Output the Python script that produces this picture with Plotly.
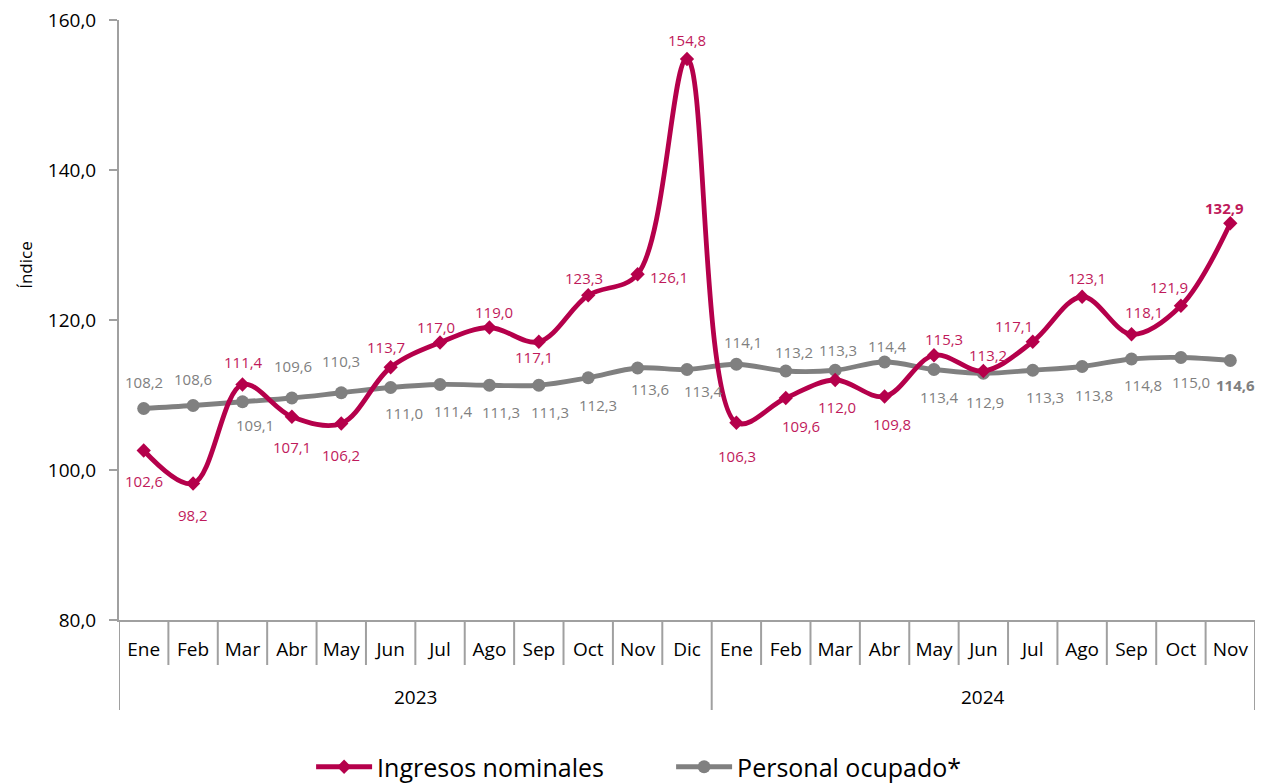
import plotly.graph_objects as go

# --- data -----------------------------------------------------------------
years = ["2023"] * 12 + ["2024"] * 11
months = ["Ene", "Feb", "Mar", "Abr", "May", "Jun", "Jul", "Ago", "Sep", "Oct", "Nov", "Dic",
          "Ene", "Feb", "Mar", "Abr", "May", "Jun", "Jul", "Ago", "Sep", "Oct", "Nov"]

ingresos = [102.6, 98.2, 111.4, 107.1, 106.2, 113.7, 117.0, 119.0, 117.1, 123.3, 126.1, 154.8,
            106.3, 109.6, 112.0, 109.8, 115.3, 113.2, 117.1, 123.1, 118.1, 121.9, 132.9]
personal = [108.2, 108.6, 109.1, 109.6, 110.3, 111.0, 111.4, 111.3, 111.3, 112.3, 113.6, 113.4,
            114.1, 113.2, 113.3, 114.4, 113.4, 112.9, 113.3, 113.8, 114.8, 115.0, 114.6]

y_ticks = [80, 100, 120, 140, 160]

# label offsets (px) from each point, as placed in the original chart
ing_off = [(0, 30), (0, 31), (1, -23), (0, 30), (0, 31), (-5, -20), (-4, -16), (5, -16),
           (-5, 15), (-4, -17), (31, 3), (0, -19),
           (1, 33), (15, 28), (2, 27), (7, 27), (10, -16), (5, -16), (-19, -16), (5, -19),
           (12, -22), (-12, -19), (-6, -15)]
per_off = [(0, -27), (0, -27), (13, 23), (1, -32), (0, -32), (13, 25), (13, 26), (12, 27),
           (11, 27), (10, 27), (12, 21), (16, 21),
           (7, -22), (8, -19), (3, -20), (3, -16), (6, 27), (2, 29), (12, 27), (12, 28),
           (11, 26), (10, 24), (5, 24)]

PINK = "#B5004B"
PINK_TXT = "#BF1A5B"
GRAY = "#808080"
AXIS = "#A0A0A0"
FONT = "Open Sans, Noto Sans, sans-serif"

PAGE = 8      # the html body margin shifts the figure by this much
PLOT_H = 600  # plot area height in px, used to convert px offsets to paper units


def fmt(v):
    return f"{v:.1f}".replace(".", ",")


xi = list(range(len(months)))

fig = go.Figure()
fig.add_trace(go.Scatter(
    x=xi, y=personal, name="Personal ocupado*", mode="lines+markers",
    line=dict(color=GRAY, width=4.8, shape="spline", smoothing=1.0),
    marker=dict(symbol="circle", size=13, color=GRAY),
    legendrank=2, hoverinfo="skip",
))
fig.add_trace(go.Scatter(
    x=xi, y=ingresos, name="Ingresos nominales", mode="lines+markers",
    line=dict(color=PINK, width=4.8, shape="spline", smoothing=1.0),
    marker=dict(symbol="diamond", size=11, color=PINK),
    legendrank=1, hoverinfo="skip",
))

# data labels
for i in xi:
    last = i == len(xi) - 1
    for vals, offs, col in ((personal, per_off, GRAY), (ingresos, ing_off, PINK_TXT)):
        t = fmt(vals[i])
        fig.add_annotation(
            x=i, y=vals[i], text=f"<b>{t}</b>" if last else t, showarrow=False,
            xshift=offs[i][0], yshift=-offs[i][1],
            font=dict(size=15, color=col, family=FONT),
        )

# category boxes under the axis: month separators and year dividers
year_names = list(dict.fromkeys(years))
for i in xi[1:]:
    if years[i] != years[i - 1]:
        continue
    fig.add_shape(type="line", xref="x", yref="paper", x0=i - 0.5, x1=i - 0.5,
                  y0=0, y1=-45 / PLOT_H, line=dict(color=AXIS, width=2))
bounds = [-0.5] + [i - 0.5 for i in xi[1:] if years[i] != years[i - 1]] + [len(xi) - 0.5]
for b in bounds:
    fig.add_shape(type="line", xref="x", yref="paper", x0=b, x1=b,
                  y0=0, y1=-90 / PLOT_H, line=dict(color=AXIS, width=2))
for yname in year_names:
    idx = [i for i in xi if years[i] == yname]
    fig.add_annotation(x=(idx[0] + idx[-1]) / 2, y=-77 / PLOT_H, xref="x", yref="paper",
                       text=yname, showarrow=False, yanchor="middle",
                       font=dict(size=19, color="#000000"))

# axis title
fig.add_annotation(x=0, y=0.592, xref="paper", yref="paper", xshift=-93,
                   xanchor="center", yanchor="middle",
                   text="Índice", textangle=-90, showarrow=False,
                   font=dict(size=17, color="#000000"))

fig.update_layout(
    width=1265, height=783,
    margin=dict(l=119 - PAGE, r=10 + PAGE, t=20 - PAGE, b=163 + PAGE, autoexpand=False),
    paper_bgcolor="white", plot_bgcolor="white",
    font=dict(family=FONT, color="#000000"),
    showlegend=True,
    legend=dict(orientation="h", x=0.486, xanchor="center", y=-147 / PLOT_H, yanchor="middle",
                font=dict(size=25, color="#000000"), itemwidth=56, entrywidth=289),
    yaxis=dict(
        range=[80, 160], tickvals=y_ticks, ticktext=[fmt(v) for v in y_ticks],
        showgrid=False, zeroline=False, showline=True, linecolor=AXIS, linewidth=2,
        ticks="outside", ticklen=8, tickcolor=AXIS, tickwidth=2,
        tickfont=dict(size=19), automargin=False, ticklabeloverflow="allow",
        ticklabelstandoff=9,
    ),
    xaxis=dict(
        range=[-0.5, len(xi) - 0.5], tickvals=xi, ticktext=months,
        showgrid=False, zeroline=False, showline=True, linecolor=AXIS, linewidth=2,
        ticks="outside", ticklen=11, tickcolor="rgba(0,0,0,0)",
        tickfont=dict(size=19), automargin=False, ticklabeloverflow="allow",
    ),
)

fig.write_html("out.html")
